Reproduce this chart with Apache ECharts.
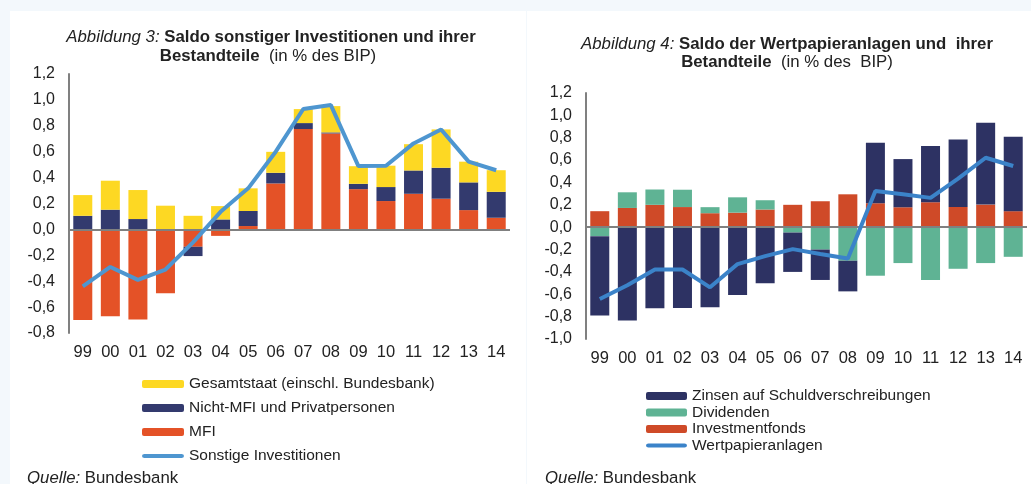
<!DOCTYPE html>
<html><head><meta charset="utf-8">
<script src="https://cdn.jsdelivr.net/npm/echarts@6/dist/echarts.min.js"></script>
<style>html,body{margin:0;padding:0;background:#f3f8fc}#c{width:1031px;height:484px}</style>
</head><body><div id="c"></div>
<script>
const categories = ['99','00','01','02','03','04','05','06','07','08','09','10','11','12','13','14'];

// Abbildung 3
const mfi        = [-0.70,-0.67,-0.695,-0.494,-0.134,-0.05,0.026,0.355,0.775,0.741,0.311,0.219,0.275,0.237,0.149,0.09];
const nichtMfi   = [0.105,0.152,0.08,0,-0.072,0.077,0.116,0.082,0.046,0.008,0.041,0.108,0.18,0.239,0.214,0.20];
const gesamtstaat= [0.16,0.224,0.224,0.183,0.105,0.103,0.175,0.162,0.108,0.203,0.136,0.165,0.203,0.296,0.16,0.167];
const sonstige   = [-0.44,-0.29,-0.39,-0.31,-0.10,0.136,0.317,0.60,0.93,0.96,0.489,0.492,0.664,0.772,0.523,0.457];

// Abbildung 4
const investmentfonds = [0.143,0.172,0.20,0.18,0.125,0.13,0.158,0.20,0.232,0.294,0.214,0.178,0.223,0.181,0.202,0.143];
const dividenden      = [-0.08,0.14,0.137,0.155,0.054,0.137,0.083,-0.048,-0.20,-0.30,-0.434,-0.321,-0.473,-0.372,-0.321,-0.265];
const zinsen          = [-0.71,-0.835,-0.725,-0.722,-0.716,-0.606,-0.502,-0.352,-0.272,-0.274,0.54,0.431,0.502,0.603,0.731,0.666];
const wertpapier      = [-0.642,-0.52,-0.378,-0.378,-0.538,-0.33,-0.259,-0.196,-0.24,-0.28,0.324,0.294,0.262,0.434,0.621,0.547];

const yTicks1 = {min:-0.8, max:1.2, interval:0.2};
const yTicks2 = {min:-1.0, max:1.2, interval:0.2};

const FONT = '"Liberation Sans", Arial, sans-serif';
const TXT = '#222';
const TFS = 16.8;
const fmt = v => v.toFixed(1).replace('.', ',');
const LINE_ICON = 'path://M0,0L0.01,0M2.5,2.5L39.5,2.5A2.5,2.5,0,0,1,39.5,7.5L2.5,7.5A2.5,2.5,0,0,1,2.5,2.5ZM0,10L0.01,10M42,0L42.01,0';

const c = echarts.init(document.getElementById('c'), null, {renderer:'canvas'});

function zeroLine(){
  return {silent:true, symbol:'none', label:{show:false},
    lineStyle:{color:'#808080', width:2, type:'solid'}, data:[{yAxis:0}], animation:false};
}
const rich = {
  i:{fontStyle:'italic',fontSize:TFS,fontFamily:FONT,fill:TXT},
  b:{fontWeight:'bold',fontSize:TFS,fontFamily:FONT,fill:TXT},
  n:{fontSize:TFS,fontFamily:FONT,fill:TXT}
};

const option = {
  animation:false,
  backgroundColor:'#f3f8fc',
  textStyle:{fontFamily:FONT},
  graphic:[
    {type:'rect', shape:{x:10,y:11,width:516,height:473}, style:{fill:'#ffffff'}, z:-10},
    {type:'rect', shape:{x:527,y:11,width:504,height:473}, style:{fill:'#ffffff'}, z:-10},
    {type:'text', x:271, y:37, style:{text:'{i|Abbildung 3: }{b|Saldo sonstiger Investitionen und ihrer}',
      align:'center', verticalAlign:'middle', rich:rich}},
    {type:'text', x:268, y:56, style:{text:'{b|Bestandteile}{n|  (in % des BIP)}',
      align:'center', verticalAlign:'middle', rich:rich}},
    {type:'text', x:787, y:44, style:{text:'{i|Abbildung 4: }{b|Saldo der Wertpapieranlagen und  ihrer}',
      align:'center', verticalAlign:'middle', rich:rich}},
    {type:'text', x:787, y:62, style:{text:'{b|Betandteile}{n|  (in % des  BIP)}',
      align:'center', verticalAlign:'middle', rich:rich}},
    {type:'text', x:27, y:478, style:{text:'{i|Quelle:}{n| Bundesbank}', verticalAlign:'middle', rich:rich}},
    {type:'text', x:545, y:478, style:{text:'{i|Quelle:}{n| Bundesbank}', verticalAlign:'middle', rich:rich}}
  ],
  legend:[
    {orient:'vertical', left:142, top:376, padding:0, itemWidth:42, itemHeight:8, itemGap:8,
     symbolKeepAspect:false,
     textStyle:{fontSize:15.5, color:TXT, fontFamily:FONT},
     data:['Gesamtstaat (einschl. Bundesbank)','Nicht-MFI und Privatpersonen','MFI',
       {name:'Sonstige Investitionen', icon:LINE_ICON}]},
    {orient:'vertical', left:646, top:388, padding:0, itemWidth:41, itemHeight:8, itemGap:0.5,
     symbolKeepAspect:false,
     textStyle:{fontSize:15.5, color:TXT, fontFamily:FONT},
     data:['Zinsen auf Schuldverschreibungen','Dividenden','Investmentfonds',
       {name:'Wertpapieranlagen', icon:LINE_ICON}]}
  ],
  grid:[
    {left:69, right:521, top:74, bottom:151},
    {left:586, right:4, top:93, bottom:145}
  ],
  xAxis:[0,1].map(i => ({type:'category', gridIndex:i, data:categories,
    axisLine:{show:false}, axisTick:{show:false},
    axisLabel:{fontSize:16.5, color:TXT, margin:11, interval:0, fontFamily:FONT}})),
  yAxis:[yTicks1, yTicks2].map((t,i) => ({type:'value', gridIndex:i, min:t.min, max:t.max, interval:t.interval,
    splitLine:{show:false}, axisTick:{show:false},
    axisLine:{show:true, lineStyle:{color:'#808080', width:2}},
    axisLabel:{fontSize:16, color:TXT, margin:14, formatter:fmt, fontFamily:FONT}})),
  series:[
    {name:'MFI', type:'bar', stack:'a', xAxisIndex:0, yAxisIndex:0, barWidth:19, data:mfi,
     itemStyle:{color:'#E45227'}, markLine:zeroLine()},
    {name:'Nicht-MFI und Privatpersonen', type:'bar', stack:'a', xAxisIndex:0, yAxisIndex:0, barWidth:19, data:nichtMfi,
     itemStyle:{color:'#333A6E'}},
    {name:'Gesamtstaat (einschl. Bundesbank)', type:'bar', stack:'a', xAxisIndex:0, yAxisIndex:0, barWidth:19, data:gesamtstaat,
     itemStyle:{color:'#FDD823'}},
    {name:'Sonstige Investitionen', type:'line', xAxisIndex:0, yAxisIndex:0, data:sonstige, symbol:'none',
     lineStyle:{color:'#4E96D0', width:4}, itemStyle:{color:'#4E96D0'}, z:5},

    {name:'Investmentfonds', type:'bar', stack:'b', xAxisIndex:1, yAxisIndex:1, barWidth:19, data:investmentfonds,
     itemStyle:{color:'#CF4A28'}, markLine:zeroLine()},
    {name:'Dividenden', type:'bar', stack:'b', xAxisIndex:1, yAxisIndex:1, barWidth:19, data:dividenden,
     itemStyle:{color:'#5FB394'}},
    {name:'Zinsen auf Schuldverschreibungen', type:'bar', stack:'b', xAxisIndex:1, yAxisIndex:1, barWidth:19, data:zinsen,
     itemStyle:{color:'#2D3263'}},
    {name:'Wertpapieranlagen', type:'line', xAxisIndex:1, yAxisIndex:1, data:wertpapier, symbol:'none',
     lineStyle:{color:'#3B83C9', width:4}, itemStyle:{color:'#3B83C9'}, z:5}
  ]
};
c.setOption(option);
</script></body></html>
